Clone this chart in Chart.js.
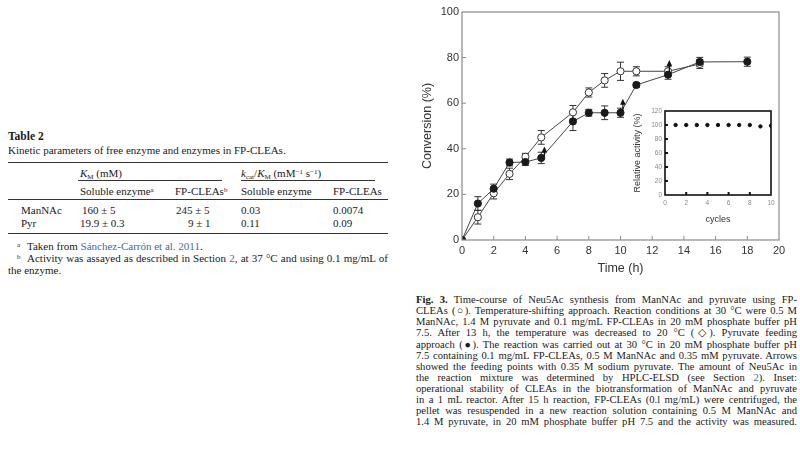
<!DOCTYPE html>
<html>
<head>
<meta charset="utf-8">
<script src="https://cdn.jsdelivr.net/npm/chart.js@4.4.0/dist/chart.umd.min.js"></script>
<style>
  body { margin: 0; width: 800px; height: 457px; background: #fff; position: relative; overflow: hidden;
         font-family: "Liberation Serif", serif; color: #1a1a1a; }
  .t { position: absolute; font-size: 11px; line-height: 12px; white-space: nowrap; }
  .rule { position: absolute; height: 1px; background: #333; }
  .link { color: #3b6aa8; }
  sup { font-size: 7px; line-height: 0; vertical-align: 3px; }
  sub { font-size: 7px; line-height: 0; vertical-align: -2px; }
  .just { text-align: justify; text-align-last: justify; white-space: nowrap; }
  #caption { position: absolute; left: 416px; top: 294px; width: 381px; font-size: 10.6px; line-height: 11.12px; }
  #main-wrap { position: absolute; left: 400px; top: 0; width: 400px; height: 285px; }
  #inset-wrap { position: absolute; left: 620px; top: 95px; width: 170px; height: 135px; }
</style>
</head>
<body>

<!-- Table 2 -->
<div class="t" style="left:8px;top:130px;font-weight:bold;font-size:11.5px">Table 2</div>
<div class="t" style="left:8px;top:144px">Kinetic parameters of free enzyme and enzymes in FP-CLEAs.</div>
<div class="rule" style="left:8px;top:162px;width:380px"></div>
<div class="t" style="left:80px;top:167px"><i>K</i><sub>M</sub> (mM)</div>
<div class="t" style="left:241px;top:167px"><i>k</i><sub>cat</sub>/<i>K</i><sub>M</sub> (mM<sup>−1</sup> s<sup>−1</sup>)</div>
<div class="rule" style="left:78px;top:180px;width:144px"></div>
<div class="rule" style="left:241px;top:180px;width:134px"></div>
<div class="t" style="left:80px;top:185px">Soluble enzyme<sup>a</sup></div>
<div class="t" style="left:175px;top:185px">FP-CLEAs<sup>b</sup></div>
<div class="t" style="left:241px;top:185px">Soluble enzyme</div>
<div class="t" style="left:333px;top:185px">FP-CLEAs</div>
<div class="rule" style="left:8px;top:199px;width:380px"></div>
<div class="t" style="left:21px;top:204px">ManNAc</div>
<div class="t" style="left:82px;top:204px">160 ± 5</div>
<div class="t" style="left:176px;top:204px">245 ± 5</div>
<div class="t" style="left:241px;top:204px">0.03</div>
<div class="t" style="left:333px;top:204px">0.0074</div>
<div class="t" style="left:21px;top:217px">Pyr</div>
<div class="t" style="left:80px;top:217px">19.9 ± 0.3</div>
<div class="t" style="left:188px;top:217px">9 ± 1</div>
<div class="t" style="left:241px;top:217px">0.11</div>
<div class="t" style="left:333px;top:217px">0.09</div>
<div class="rule" style="left:8px;top:233px;width:380px"></div>
<div class="t" style="left:17px;top:240px"><sup>a</sup></div>
<div class="t" style="left:27px;top:240px">Taken from <span class="link">Sánchez-Carrón et al. 2011</span>.</div>
<div class="t" style="left:17px;top:252px"><sup>b</sup></div>
<div class="t just" style="left:27px;top:252px;width:361px">Activity was assayed as described in Section <span class="link">2</span>, at 37 °C and using 0.1 mg/mL of</div>
<div class="t" style="left:8px;top:264px">the enzyme.</div>

<div id="main-wrap"><canvas id="main"></canvas></div>
<div id="inset-wrap"><canvas id="inset"></canvas></div>

<div id="caption">
  <div class="just"><b>Fig. 3.</b> Time-course of Neu5Ac synthesis from ManNAc and pyruvate using FP-</div>
  <div class="just">CLEAs (○). Temperature-shifting approach. Reaction conditions at 30 °C were 0.5 M</div>
  <div class="just">ManNAc, 1.4 M pyruvate and 0.1 mg/mL FP-CLEAs in 20 mM phosphate buffer pH</div>
  <div class="just">7.5. After 13 h, the temperature was decreased to 20 °C (◇). Pyruvate feeding</div>
  <div class="just">approach (●). The reaction was carried out at 30 °C in 20 mM phosphate buffer pH</div>
  <div class="just">7.5 containing 0.1 mg/mL FP-CLEAs, 0.5 M ManNAc and 0.35 mM pyruvate. Arrows</div>
  <div class="just">showed the feeding points with 0.35 M sodium pyruvate. The amount of Neu5Ac in</div>
  <div class="just">the reaction mixture was determined by HPLC-ELSD (see Section <span class="link">2</span>). Inset:</div>
  <div class="just">operational stability of CLEAs in the biotransformation of ManNAc and pyruvate</div>
  <div class="just">in a 1 mL reactor. After 15 h reaction, FP-CLEAs (0.l mg/mL) were centrifuged, the</div>
  <div class="just">pellet was resuspended in a new reaction solution containing 0.5 M ManNAc and</div>
  <div class="just">1.4 M pyruvate, in 20 mM phosphate buffer pH 7.5 and the activity was measured.</div>
</div>

<script>
// Temperature-shifting approach (open circles)
const timeOpen = [0, 1, 2, 3, 4, 5, 7, 8, 9, 10, 11, 13, 15];
const convOpen = [0, 10, 20.5, 29, 36.5, 45, 56, 64.7, 70, 74, 74, 74, 77.2];
const errOpen  = [0, 3, 2.5, 2.5, 1.5, 3, 3, 2, 3, 4, 2, 2, 2];

// Pyruvate feeding approach (filled circles)
const timeFilled = [0, 1, 2, 3, 4, 5, 7, 8, 9, 10, 11, 13, 15, 18];
const convFilled = [0, 16, 22.5, 34, 34.2, 36, 52, 55.8, 55.8, 55.8, 68, 72.5, 78.1, 78.2];
const errFilled  = [0, 3, 2, 1.5, 1.5, 2.5, 4, 1.5, 3, 2, 1, 2, 2, 2];

// feeding arrows (time, conversion from -> to)
const arrowX    = [5.2, 10.15, 13.08];
const arrowFrom = [36.5, 56.5, 74];
const arrowTo   = [41, 62, 79];

// inset: operational stability
const cycles   = [1, 2, 3, 4, 5, 6, 7, 8, 9, 10];
const activity = [100, 100, 100, 100, 100, 100, 100, 100, 98, 99];

Chart.defaults.font.family = 'Liberation Sans';
Chart.defaults.animation = false;

function pts(xs, ys) {
  return xs.map((x, i) => ({ x: x, y: ys[i] }));
}

// box around plot + inward ticks
const framePlugin = {
  id: 'frame',
  afterDraw(chart, args, opts) {
    const { ctx, chartArea: a } = chart;
    ctx.save();
    ctx.strokeStyle = opts.tickColor;
    ctx.lineWidth = opts.tickWidth;
    const xs = chart.scales.x, ys = chart.scales.y;
    xs.ticks.forEach(t => {
      if (t.value <= xs.min || t.value >= xs.max) return;
      const px = xs.getPixelForValue(t.value);
      ctx.beginPath(); ctx.moveTo(px, a.bottom); ctx.lineTo(px, a.bottom - opts.tickLen); ctx.stroke();
    });
    ys.ticks.forEach(t => {
      if (t.value <= ys.min || t.value >= ys.max) return;
      const py = ys.getPixelForValue(t.value);
      ctx.beginPath(); ctx.moveTo(a.left, py); ctx.lineTo(a.left + opts.tickLen, py); ctx.stroke();
    });
    ctx.strokeStyle = opts.color;
    ctx.lineWidth = opts.width;
    ctx.strokeRect(a.left, a.top, a.right - a.left, a.bottom - a.top);
    ctx.restore();
  }
};

// vertical error bars, drawn under the points
const errorBarPlugin = {
  id: 'errorBars',
  beforeDatasetsDraw(chart) {
    const { ctx } = chart;
    const xs = chart.scales.x, ys = chart.scales.y;
    ctx.save();
    ctx.strokeStyle = '#333';
    ctx.lineWidth = 1;
    chart.data.datasets.forEach(ds => {
      if (!ds.errors) return;
      ds.data.forEach((p, i) => {
        const e = ds.errors[i];
        if (!e) return;
        const px = xs.getPixelForValue(p.x);
        const y1 = ys.getPixelForValue(p.y - e), y2 = ys.getPixelForValue(p.y + e);
        ctx.beginPath();
        ctx.moveTo(px, y1); ctx.lineTo(px, y2);
        ctx.moveTo(px - 3.5, y1); ctx.lineTo(px + 3.5, y1);
        ctx.moveTo(px - 3.5, y2); ctx.lineTo(px + 3.5, y2);
        ctx.stroke();
      });
    });
    ctx.restore();
  }
};

// feeding arrows
const arrowPlugin = {
  id: 'arrows',
  afterDatasetsDraw(chart) {
    if (!chart.options.plugins.arrows) return;
    const { ctx } = chart;
    const xs = chart.scales.x, ys = chart.scales.y;
    ctx.save();
    ctx.strokeStyle = '#111';
    ctx.fillStyle = '#111';
    ctx.lineWidth = 1.2;
    arrowX.forEach((x, i) => {
      const px = xs.getPixelForValue(x);
      const yb = ys.getPixelForValue(arrowFrom[i]), yt = ys.getPixelForValue(arrowTo[i]);
      ctx.beginPath(); ctx.moveTo(px, yb); ctx.lineTo(px, yt + 4); ctx.stroke();
      ctx.beginPath(); ctx.moveTo(px, yt); ctx.lineTo(px - 2.8, yt + 6); ctx.lineTo(px + 2.8, yt + 6); ctx.closePath(); ctx.fill();
    });
    ctx.restore();
  }
};

new Chart(document.getElementById('main'), {
  type: 'scatter',
  data: {
    datasets: [
      {
        label: 'Pyruvate feeding',
        data: pts(timeFilled, convFilled),
        errors: errFilled,
        showLine: true,
        borderColor: '#444',
        borderWidth: 1,
        pointRadius: 3.6,
        pointBackgroundColor: '#1a1a1a',
        pointBorderColor: '#1a1a1a',
        order: 1
      },
      {
        label: 'Temperature shifting',
        data: pts(timeOpen, convOpen),
        errors: errOpen,
        showLine: true,
        borderColor: '#444',
        borderWidth: 1,
        pointRadius: 3.6,
        pointBackgroundColor: '#fff',
        pointBorderColor: '#333',
        pointBorderWidth: 1,
        order: 2
      }
    ]
  },
  options: {
    responsive: true,
    maintainAspectRatio: false,
    layout: { padding: { top: 12, right: 21, left: 0, bottom: 0 } },
    plugins: {
      legend: { display: false },
      tooltip: { enabled: false },
      frame: { color: '#8a8a8a', width: 1.2, tickColor: '#8a8a8a', tickWidth: 1, tickLen: 4 },
      arrows: true
    },
    scales: {
      x: {
        type: 'linear', min: 0, max: 20,
        ticks: { stepSize: 2, padding: 4, color: '#333', font: { size: 11 } },
        grid: { display: false, drawTicks: false },
        border: { display: false },
        title: { display: true, text: 'Time (h)', color: '#333', font: { size: 12.5 }, padding: { top: 0, bottom: 8.5 } },
        afterFit(s) { s.height = 45; }
      },
      y: {
        type: 'linear', min: 0, max: 100,
        ticks: { stepSize: 20, padding: 3, color: '#333', font: { size: 11 } },
        grid: { display: false, drawTicks: false },
        border: { display: false },
        title: { display: true, text: 'Conversion (%)', color: '#333', font: { size: 12.5 }, padding: { top: 20.5, bottom: 0 } },
        afterFit(s) { s.width = 62; }
      }
    }
  },
  plugins: [errorBarPlugin, framePlugin, arrowPlugin]
});

new Chart(document.getElementById('inset'), {
  type: 'scatter',
  data: {
    datasets: [{
      label: 'Relative activity',
      data: pts(cycles, activity),
      pointRadius: 1.7,
      pointBackgroundColor: '#111',
      pointBorderColor: '#111',
      showLine: false
    }]
  },
  options: {
    responsive: true,
    maintainAspectRatio: false,
    layout: { padding: { top: 16, right: 19, left: 0, bottom: 0 } },
    plugins: {
      legend: { display: false },
      tooltip: { enabled: false },
      frame: { color: '#111', width: 1.6, tickColor: '#111', tickWidth: 2, tickLen: 3 }
    },
    scales: {
      x: {
        type: 'linear', min: 0, max: 10,
        ticks: { stepSize: 2, padding: 4, color: '#888', font: { size: 6.5 } },
        grid: { display: false, drawTicks: false },
        border: { display: false },
        title: { display: true, text: 'cycles', color: '#333', font: { size: 9 }, padding: { top: 0, bottom: 4.6 } },
        afterFit(s) { s.height = 35; }
      },
      y: {
        type: 'linear', min: 0, max: 120,
        ticks: { stepSize: 20, padding: 3, color: '#888', font: { size: 6.5 } },
        grid: { display: false, drawTicks: false },
        border: { display: false },
        title: { display: true, text: 'Relative activity (%)', color: '#333', font: { size: 9 }, padding: { top: 12.6, bottom: 0 } },
        afterFit(s) { s.width = 45; }
      }
    }
  },
  plugins: [framePlugin]
});
</script>
</body>
</html>
